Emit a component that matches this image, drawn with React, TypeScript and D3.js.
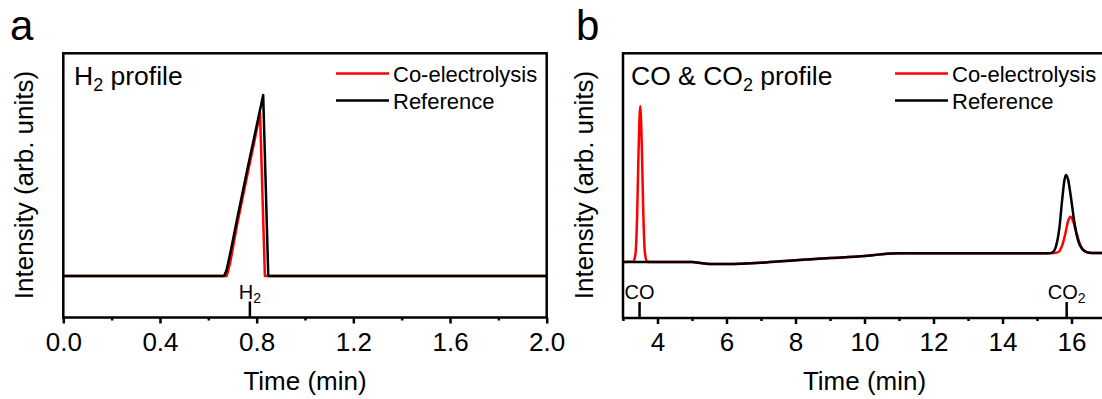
import React, { useEffect, useRef } from 'react'
import * as d3 from 'd3'

// H2 profile (panel a), [time (min), intensity]
const h2Reference: [number, number][] = [
  [0, 0], [0.665, 0], [0.675, 0.03], [0.69, 0.12], [0.72, 0.32], [0.76, 0.58],
  [0.8, 0.83], [0.827, 1.0], [0.848, 0], [2, 0]
]
const h2CoElectrolysis: [number, number][] = [
  [0, 0], [0.676, 0], [0.69, 0.07], [0.72, 0.29], [0.76, 0.55], [0.79, 0.74],
  [0.814, 0.9], [0.834, 0], [2, 0]
]

// CO & CO2 profile (panel b)
const coReference: [number, number][] = [
  [3, 0], [5.0, 0], [5.3, -0.008], [5.6, -0.013], [6, -0.013], [7, -0.005], [8, 0.012],
  [9, 0.025], [10, 0.038], [10.5, 0.05], [11, 0.056], [12, 0.056], [15.3, 0.056],
  [15.45, 0.062], [15.55, 0.1], [15.65, 0.22], [15.73, 0.4], [15.8, 0.53], [15.84, 0.558],
  [15.9, 0.53], [15.98, 0.42], [16.08, 0.26], [16.2, 0.13], [16.32, 0.08], [16.45, 0.062],
  [16.6, 0.058], [17, 0.058]
]
const coCoElectrolysis: [number, number][] = [
  [3, 0], [3.3, 0.003], [3.36, 0.05], [3.41, 0.3], [3.45, 0.7], [3.5, 1.0], [3.55, 0.7],
  [3.59, 0.3], [3.64, 0.05], [3.7, 0.003], [3.8, 0], [5.0, 0], [5.3, -0.008], [5.6, -0.013],
  [6, -0.013], [7, -0.005], [8, 0.012], [9, 0.025], [10, 0.038], [10.5, 0.05], [11, 0.056],
  [12, 0.056], [15.4, 0.056], [15.6, 0.062], [15.72, 0.1], [15.82, 0.18], [15.9, 0.26],
  [15.97, 0.29], [16.05, 0.26], [16.15, 0.18], [16.27, 0.1], [16.4, 0.068], [16.55, 0.058],
  [17, 0.058]
]

const aMajor = [0, 0.4, 0.8, 1.2, 1.6, 2.0]
const aMinor = [0.2, 0.6, 1.0, 1.4, 1.8]
const bMajor = [4, 6, 8, 10, 12, 14, 16]
const bMinor = [3, 5, 7, 9, 11, 13, 15, 17]

const h2Marker = 0.772
const coMarker = 3.48
const co2Marker = 15.86

const FONT = 'Arial, "Liberation Sans", sans-serif'
const RED = '#ff0000'

const Axis = ({ scale, major, minor, y, fmt }: any) => {
  const ref = useRef<SVGGElement>(null)
  useEffect(() => {
    const g = d3.select(ref.current)
    g.selectAll('*').remove()
    g.append('g').call(
      d3.axisBottom(scale).tickValues(major).tickSize(6).tickSizeOuter(0).tickPadding(9).tickFormat(fmt)
    )
    g.append('g').call(
      d3.axisBottom(scale).tickValues(minor).tickSize(3).tickSizeOuter(0).tickFormat(() => '')
    )
    g.selectAll('.domain').remove()
    g.selectAll('line').attr('stroke', '#000').attr('stroke-width', 2.5)
    g.selectAll('text').attr('font-size', 26).attr('font-family', FONT).attr('fill', '#000')
  }, [scale, major, minor, fmt])
  return <g ref={ref} transform={`translate(0,${y})`} />
}

const Panel = ({ x0, x1, top, bottom, xDomain, yDomain, red, black, major, minor, fmt, curve }: any) => {
  const x = d3.scaleLinear().domain(xDomain).range([x0, x1])
  const y = d3.scaleLinear().domain(yDomain).range([bottom, top])
  const line = d3.line<[number, number]>().x(d => x(d[0])).y(d => y(d[1])).curve(curve)
  return (
    <g>
      <path d={line(red) || ''} fill="none" stroke={RED} strokeWidth={2.5} strokeLinejoin="round" />
      <path d={line(black) || ''} fill="none" stroke="#000" strokeWidth={2.5} strokeLinejoin="round" />
      <rect x={x0} y={top} width={x1 - x0} height={bottom - top} fill="none" stroke="#000" strokeWidth={2.5} />
      <Axis scale={x} major={major} minor={minor} y={bottom} fmt={fmt} />
    </g>
  )
}

const Legend = ({ lx, ty }: any) => (
  <g fontFamily={FONT} fontSize={22}>
    <line x1={lx} x2={lx + 53} y1={ty} y2={ty} stroke={RED} strokeWidth={2.5} />
    <text x={lx + 57} y={ty + 8}>Co-electrolysis</text>
    <line x1={lx} x2={lx + 53} y1={ty + 27} y2={ty + 27} stroke="#000" strokeWidth={2.5} />
    <text x={lx + 57} y={ty + 35}>Reference</text>
  </g>
)

const Marker = ({ scale, t, bottom, children }: any) => (
  <g fontFamily={FONT} fontSize={20}>
    <line x1={scale(t)} x2={scale(t)} y1={bottom} y2={bottom - 16} stroke="#000" strokeWidth={2.5} />
    <text x={scale(t)} y={bottom - 19} textAnchor="middle">{children}</text>
  </g>
)

export default function App() {
  const aX = d3.scaleLinear().domain([0, 2]).range([63.3, 546.7])
  const bX = d3.scaleLinear().domain([3, 17]).range([623, 1106])
  const fmtA = (d: any) => d3.format('.1f')(d)
  const fmtB = (d: any) => String(d)
  return (
    <div style={{ position: 'absolute', left: 0, top: 0 }}>
      <svg width={1102} height={399} style={{ display: 'block', background: '#fff' }}>
        <text x={10} y={40} fontFamily={FONT} fontSize={42}>a</text>
        <text x={576} y={40} fontFamily={FONT} fontSize={42}>b</text>

        <Panel x0={63.3} x1={546.7} top={53.3} bottom={317.5} xDomain={[0, 2]} yDomain={[-0.229, 1.23]}
          red={h2CoElectrolysis} black={h2Reference} major={aMajor} minor={aMinor} fmt={fmtA} curve={d3.curveLinear} />
        <Panel x0={623} x1={1106} top={53.3} bottom={318} xDomain={[3, 17]} yDomain={[-0.359, 1.338]}
          red={coCoElectrolysis} black={coReference} major={bMajor} minor={bMinor} fmt={fmtB} curve={d3.curveMonotoneX} />

        <text x={74} y={85} fontFamily={FONT} fontSize={26.5}>
          H<tspan fontSize={18} dy={6}>2</tspan><tspan dy={-6}>{' profile'}</tspan>
        </text>
        <text x={631} y={85} fontFamily={FONT} fontSize={26.5}>
          {'CO & CO'}<tspan fontSize={18} dy={6}>2</tspan><tspan dy={-6}>{' profile'}</tspan>
        </text>

        <Legend lx={336} ty={73.5} />
        <Legend lx={895} ty={73.5} />

        <Marker scale={aX} t={h2Marker} bottom={317.5}>
          H<tspan fontSize={14} dy={4}>2</tspan>
        </Marker>
        <Marker scale={bX} t={coMarker} bottom={318}>CO</Marker>
        <Marker scale={bX} t={co2Marker} bottom={318}>
          CO<tspan fontSize={14} dy={4}>2</tspan>
        </Marker>

        <text x={305} y={390} textAnchor="middle" fontFamily={FONT} fontSize={26}>Time (min)</text>
        <text x={864.5} y={390} textAnchor="middle" fontFamily={FONT} fontSize={26}>Time (min)</text>
        <text transform="translate(33,185) rotate(-90)" textAnchor="middle" fontFamily={FONT} fontSize={26}>Intensity (arb. units)</text>
        <text transform="translate(593,185) rotate(-90)" textAnchor="middle" fontFamily={FONT} fontSize={26}>Intensity (arb. units)</text>
      </svg>
    </div>
  )
}
